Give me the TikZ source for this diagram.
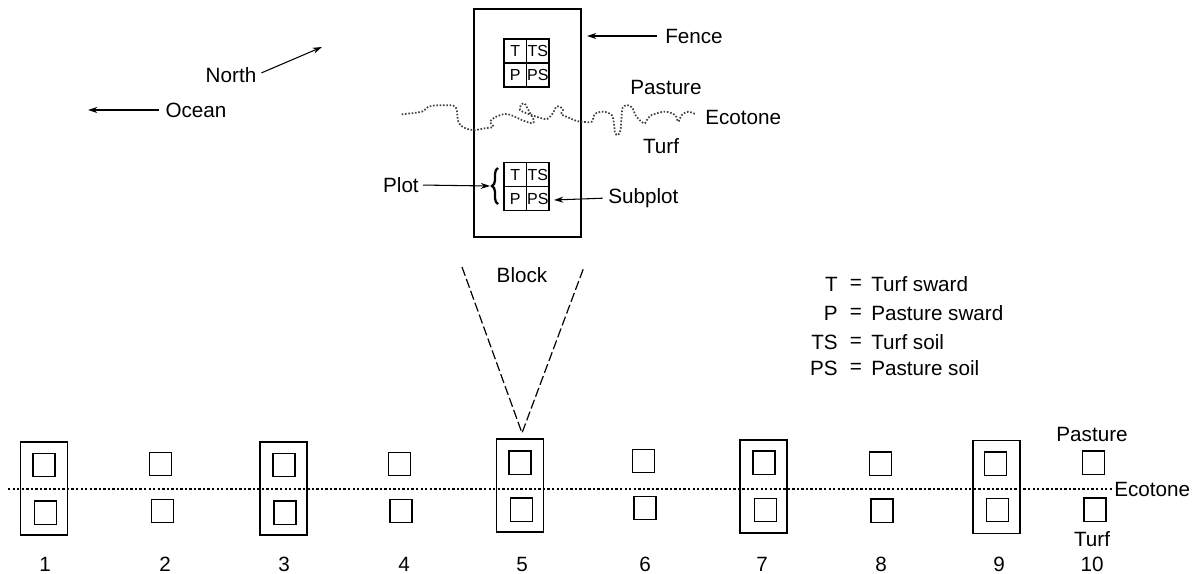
\documentclass[tikz,border=0pt]{standalone}
\usepackage{fontspec}
\setmainfont{Liberation Sans}
\usetikzlibrary{arrows.meta,decorations.pathreplacing,calc}
\begin{document}
\begin{tikzpicture}[x=0.75pt,y=-0.75pt,
  lbl/.style={inner sep=0pt, font=\fontsize{15.5pt}{18pt}\selectfont},
  cell/.style={draw, line width=0.9pt, minimum width=16.9pt, minimum height=18pt, inner sep=0pt, font=\fontsize{12pt}{14pt}\selectfont},
  sq/.style={draw, line width=1pt, minimum width=16.5pt, minimum height=17.5pt, inner sep=0pt},
  outerbox/.style={draw, line width=1pt, minimum width=35.25pt, minimum height=69.75pt, inner sep=0pt},
  arr/.style={-{Stealth[length=7pt,width=4.5pt]}, line width=0.8pt},
  dotline/.style={line width=1.3pt, dash pattern=on 1.2pt off 1.3pt},
  dashline/.style={line width=0.9pt, dash pattern=on 7pt off 2.5pt}]
\useasboundingbox (0,0) rectangle (1198,574);

% compass / ocean
\node[lbl] (north) at (231,75) {North};
\coordinate (ntip) at (322,47);
\draw[arr, shorten <=4pt] (north.east) -- (ntip);
\node[lbl] (ocean) at (196,110) {Ocean};
\coordinate (otip) at (88,110);
\draw[arr, shorten <=5pt] (ocean.west) -- (otip);

% block
\node[draw, line width=1pt, minimum width=80.25pt, minimum height=171pt, inner sep=0pt] (block) at (527.5,123) {};
\node[lbl] (blocklbl) at (522,275) {Block};

% top plot
\node[cell] (aT) at (515.25,51) {T};
\node[cell] (aTS) at (537.75,51) {TS};
\node[cell] (aP) at (515.25,75) {P};
\node[cell] (aPS) at (537.75,75) {PS};
% bottom plot
\node[cell] (bT) at (515.25,174.5) {T};
\node[cell] (bTS) at (537.75,174.5) {TS};
\node[cell] (bP) at (515.25,198.5) {P};
\node[cell] (bPS) at (537.75,198.5) {PS};

% fence
\node[lbl, anchor=west] (fence) at (665,36) {Fence};
\coordinate (ftip) at (587,36);
\draw[arr, shorten <=6pt] (fence.west) -- (ftip);

% ecotone wavy line
\draw[dotline, black!75] plot[smooth, tension=0.55] coordinates {
 (401.7,114.3) (421.7,111.7) (428.3,106.7) (438.3,105.3) (453.3,105.7) (456.7,110)
 (458.3,121.7) (463.3,127.3) (473.3,130) (485,128.3) (493.3,126.7) (490,121.7)
 (495,117.3) (505,114) (513.3,116) (521.7,120) (531.7,123.3) (534,121) (531.7,116)
 (526.7,107) (524.3,103.3) (521,105) (520,110) (526.7,113.3) (538.3,117.3)
 (547,119) (553,113) (556,107) (560,106.7) (563,110) (561,114) (566,116.5)
 (576.7,121) (585,122) (591.7,121.7) (595,114) (603.3,111.7) (611.7,115)
 (614,124) (615,133) (618,135) (620.5,130) (621.7,115) (622.5,108) (626.7,105)
 (632,107.5) (636,116) (641.7,122) (645,123.3) (648,118) (651.7,115) (665,111.7)
 (675,115) (678.3,121.7) (681.7,115) (688.3,111.7) (695,114)};
\node[lbl] (pastTop) at (666,87) {Pasture};
\node[lbl, anchor=west] (ecoTop) at (705,117) {Ecotone};
\node[lbl] (turfTop) at (661,146) {Turf};

% plot brace and labels
\draw[decorate, decoration={brace, amplitude=4.5pt}, line width=1.7pt] (498,204) -- (498,168);
\coordinate (bracetip) at (490,186);
\node[lbl, anchor=east] (plotlbl) at (419,185) {Plot};
\draw[arr, shorten <=3pt] (plotlbl.east) -- (bracetip);
\node[lbl, anchor=west] (subplot) at (608,198) {Subplot};
\coordinate (stip) at (554,200);
\draw[arr, shorten <=4pt] (subplot.west) -- (stip);

% block zoom lines
\coordinate (vl) at (462,267);
\coordinate (vr) at (584,267);
\coordinate (apex) at (522,433);
\draw[dashline] (vl) -- (apex) -- (vr);

% legend
\node[lbl, anchor=east] (kT) at (838,284) {T};
\node[lbl, anchor=east] (kP) at (838,313) {P};
\node[lbl, anchor=east] (kTS) at (838,342) {TS};
\node[lbl, anchor=east] (kPS) at (838,368) {PS};
\node[lbl] (eT) at (856,284) {=};
\node[lbl] (eP) at (856,313) {=};
\node[lbl] (eTS) at (856,342) {=};
\node[lbl] (ePS) at (856,368) {=};
\node[lbl, anchor=west] (dT) at (871,284) {Turf sward};
\node[lbl, anchor=west] (dP) at (871,313) {Pasture sward};
\node[lbl, anchor=west] (dTS) at (871,342) {Turf soil};
\node[lbl, anchor=west] (dPS) at (871,368) {Pasture soil};

% bottom transect
\node[lbl, anchor=west] (ecoBot) at (1114,489) {Ecotone};
\coordinate (dlstart) at (8,489);
\draw[line width=1.1pt, dash pattern=on 1.8pt off 1.6pt] (dlstart) -- (ecoBot.west);

\foreach \i/\xt/\xb/\yt/\yb/\xn in {
  1/44/45.5/465/512.5/45, 2/160.5/162.5/464/511/165, 3/284/285/465/512.5/284,
  4/399.5/401/464/511/404, 5/520/521.5/462.5/509.5/522, 6/643.5/645/461/508/645,
  7/764/765.5/462.5/510/762, 8/880.5/882/463.5/510.5/881, 9/995.5/997.5/463.5/510/999,
  10/1093.5/1095/462.5/509.5/1092} {
  \node[sq] (top\i) at (\xt,\yt) {};
  \node[sq] (bot\i) at (\xb,\yb) {};
  \node[lbl] (num\i) at (\xn,564) {\i};
}
\foreach \i/\x/\y in {1/44/488.5, 3/283.5/488.5, 5/520/485.5, 7/763.5/486.5, 9/996.5/487} {
  \node[outerbox] (box\i) at (\x,\y) {};
}
\node[lbl] (pastBot) at (1092,434) {Pasture};
\node[lbl] (turfBot) at (1092,539) {Turf};
\end{tikzpicture}
\end{document}
